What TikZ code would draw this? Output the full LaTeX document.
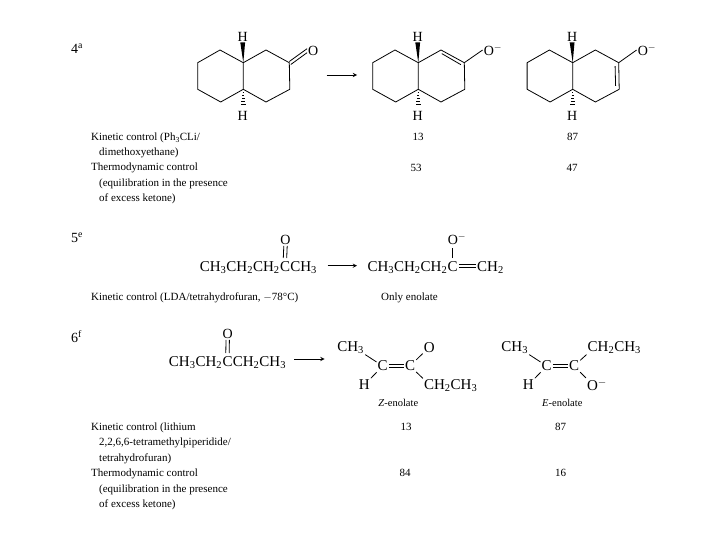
\documentclass[tikz,border=0pt]{standalone}
\usepackage{fontspec}
\setmainfont{Liberation Serif}
\tikzset{
  formula/.style={inner xsep=0pt, inner ysep=1pt, font=\fontsize{15}{15}\selectfont, text height=12pt, text depth=3pt},
  atom/.style={inner sep=1pt, font=\fontsize{14}{14}\selectfont},
  group/.style={inner sep=1pt, font=\fontsize{15}{15}\selectfont},
  entry/.style={anchor=west, inner sep=0pt, font=\fontsize{11}{13}\selectfont, text height=9.5pt, text depth=2.5pt},
  amount/.style={inner sep=0pt, font=\fontsize{11}{13}\selectfont, text height=9.5pt, text depth=2.5pt},
  bond/.style={line width=0.8pt},
  rarrow/.style={line width=0.9pt, -stealth}
}
\begin{document}
\begin{tikzpicture}[x=1pt, y=-1pt]
\useasboundingbox (0,0) rectangle (720,540);

%ring skeleton, #1 is the name, #2 is the x of the ring fusion
\newcommand{\decalinrings}[2]{
        \coordinate (#1jt) at (#2,62.7);
        \coordinate (#1jb) at (#2,89.3);
        \coordinate (#1l1) at (#2-23.3,50);
        \coordinate (#1l2) at (#2-45.6,62.7);
        \coordinate (#1l3) at (#2-45.6,89.3);
        \coordinate (#1l4) at (#2-22.6,102);
        \coordinate (#1r1) at (#2+22.7,50);
        \coordinate (#1r2) at (#2+46,62.7);
        \coordinate (#1r3) at (#2+46.5,89.3);
        \coordinate (#1r4) at (#2+22.7,102);
        \node[atom] (#1ht) at (#2-0.6,36.7) {H};
        \node[atom] (#1hb) at (#2-0.6,116) {H};
        \draw[bond, line join=round] (#1jt) -- (#1l1) -- (#1l2) -- (#1l3) -- (#1l4) -- (#1jb) -- (#1jt) -- (#1r1) -- (#1r2) -- (#1r3) -- (#1r4) -- (#1jb);
        \fill (#1jt) -- ([xshift=-2.4pt]#1ht.south) -- ([xshift=2.4pt]#1ht.south) -- cycle;
        \foreach \k in {1,...,5}{
            \draw[line width=0.6pt] (#2-0.3-0.4*\k,89.3+3*\k) -- (#2+0.3+0.4*\k,89.3+3*\k);
        }
}

%%first row
\node[atom, anchor=west] (num4) at (70,49) {4\textsuperscript{a}};
\decalinrings{ketone}{243.3}
\node[atom] (ketoneO) at (313.3,50.7) {O};
\draw[bond] ([yshift=1.2pt]ketoner2) -- ([yshift=2pt]ketoneO.west);
\draw[bond] ([xshift=1.5pt,yshift=-1.8pt]ketoner2) -- ([yshift=-2pt]ketoneO.west);
\coordinate (arrowAs) at (326.7,75);
\coordinate (arrowAe) at (357,75);
\draw[rarrow] (arrowAs) -- (arrowAe);

\decalinrings{inner}{418.3}
\node[atom] (innerO) at (493,50) {O$^-$};
\draw[bond] (innerr2) -- (innerO.west);
\draw[bond] ([xshift=0.8pt,yshift=-3.6pt]innerr1) -- ([xshift=-3.4pt,yshift=-2pt]innerr2);

\decalinrings{outer}{572.7}
\node[atom] (outerO) at (647,50) {O$^-$};
\draw[bond] (outerr2) -- (outerO.west);
\draw[bond] ([xshift=-3.6pt,yshift=-3.5pt]outerr2) -- ([xshift=-3.6pt,yshift=3.5pt]outerr3);

\node[entry] (rowAa) at (91,137.5) {Kinetic control (Ph\textsubscript{3}CLi/};
\node[entry] (rowAb) at (99,152.5) {dimethoxyethane)};
\node[entry] (rowAc) at (91,167.5) {Thermodynamic control};
\node[entry] (rowAd) at (99,183) {(equilibration in the presence};
\node[entry] (rowAe) at (99,198) {of excess ketone)};
\node[amount] (valAa) at (418,137.5) {13};
\node[amount] (valAb) at (572.7,137.5) {87};
\node[amount] (valAc) at (416,168) {53};
\node[amount] (valAd) at (572,168) {47};

%%second row
\node[atom, anchor=west] (num5) at (70,238) {5\textsuperscript{e}};
\node[formula] (ketCb) at (285,266.7) {C};
\node[formula, anchor=east] (ketCa) at (ketCb.west) {CH\textsubscript{3}CH\textsubscript{2}CH\textsubscript{2}};
\node[formula, anchor=west] (ketCc) at (ketCb.east) {CH\textsubscript{3}};
\node[atom] (ketCo) at (285.5,240) {O};
\draw[bond] ([xshift=-1.7pt]ketCo.south) -- ([xshift=-1.7pt]ketCb.north);
\draw[bond] ([xshift=1.7pt]ketCo.south) -- ([xshift=1.7pt]ketCb.north);
\coordinate (arrowBs) at (327.7,265.7);
\coordinate (arrowBe) at (357,265.7);
\draw[rarrow] (arrowBs) -- (arrowBe);

\node[formula] (enoCb) at (452.7,266.7) {C};
\node[formula, anchor=east] (enoCa) at (enoCb.west) {CH\textsubscript{3}CH\textsubscript{2}CH\textsubscript{2}};
\node[formula, anchor=west] (enoCc) at (477,266.7) {CH\textsubscript{2}};
\node[atom] (enoCo) at (457,239) {O$^-$};
\draw[bond] (enoCb.north) -- (452.7,247.5);
\draw[bond] ([xshift=1pt,yshift=2.5pt]enoCb.east) -- ([xshift=-1pt,yshift=2.5pt]enoCc.west);
\draw[bond] ([xshift=1pt,yshift=-0.5pt]enoCb.east) -- ([xshift=-1pt,yshift=-0.5pt]enoCc.west);

\node[entry] (rowBa) at (91,297) {Kinetic control (LDA/tetrahydrofuran, $-$78°C)};
\node[entry] (rowBb) at (381,297) {Only enolate};

%%third row
\node[atom, anchor=west] (num6) at (70,337) {6\textsuperscript{f}};
\node[formula] (pentCb) at (227.5,361.7) {C};
\node[formula, anchor=east] (pentCa) at (pentCb.west) {CH\textsubscript{3}CH\textsubscript{2}};
\node[formula, anchor=west] (pentCc) at (pentCb.east) {CH\textsubscript{2}CH\textsubscript{3}};
\node[atom] (pentCo) at (227.7,334) {O};
\draw[bond] ([xshift=-1.7pt]pentCo.south) -- ([xshift=-1.7pt]pentCb.north);
\draw[bond] ([xshift=1.7pt]pentCo.south) -- ([xshift=1.7pt]pentCb.north);
\coordinate (arrowCs) at (294,359);
\coordinate (arrowCe) at (324.5,359);
\draw[rarrow] (arrowCs) -- (arrowCe);

%enolate with its four groups
\newcommand{\enolate}[8]{
        \node[group] (#1ca) at (#2,366) {C};
        \node[group] (#1cb) at (#2+27.3,366) {C};
        \node[group] (#1me) at (#2-32,347.3) {CH\textsubscript{3}};
        \node[group] (#1hy) at (#2-18.4,384.3) {H};
        \node[group] (#1up) at (#3,347.3) {#4};
        \node[group] (#1dn) at (#5,#6) {#7};
        \node[entry, anchor=center, font=\fontsize{10.5}{13}\selectfont] (#1nm) at (#2+15.6,402.7) {#8};
        \draw[bond] (#1me.south east) -- (#1ca);
        \draw[bond] (#1hy.north east) -- (#1ca);
        \draw[bond] (#1cb) -- (#1up.south west);
        \draw[bond] (#1cb) -- (#1dn.north west);
        \draw[bond] ([yshift=-1.5pt]#1ca.east) -- ([yshift=-1.5pt]#1cb.west);
        \draw[bond] ([yshift=1.5pt]#1ca.east) -- ([yshift=1.5pt]#1cb.west);
}
\enolate{zeno}{382.7}{429.3}{O}{450.7}{385.7}{CH\textsubscript{2}CH\textsubscript{3}}{\textit{Z}-enolate}
\enolate{eeno}{546.7}{614.3}{CH\textsubscript{2}CH\textsubscript{3}}{597}{385}{O$^-$}{\textit{E}-enolate}

\node[entry] (rowCa) at (91,427.3) {Kinetic control (lithium};
\node[entry] (rowCb) at (99,442) {2,2,6,6-tetramethylpiperidide/};
\node[entry] (rowCc) at (99,457.7) {tetrahydrofuran)};
\node[entry] (rowCd) at (91,473.3) {Thermodynamic control};
\node[entry] (rowCe) at (99,488.7) {(equilibration in the presence};
\node[entry] (rowCf) at (99,504) {of excess ketone)};
\node[amount] (valCa) at (406,427) {13};
\node[amount] (valCb) at (560.7,427) {87};
\node[amount] (valCc) at (405,473) {84};
\node[amount] (valCd) at (560.7,473) {16};

\end{tikzpicture}
\end{document}
